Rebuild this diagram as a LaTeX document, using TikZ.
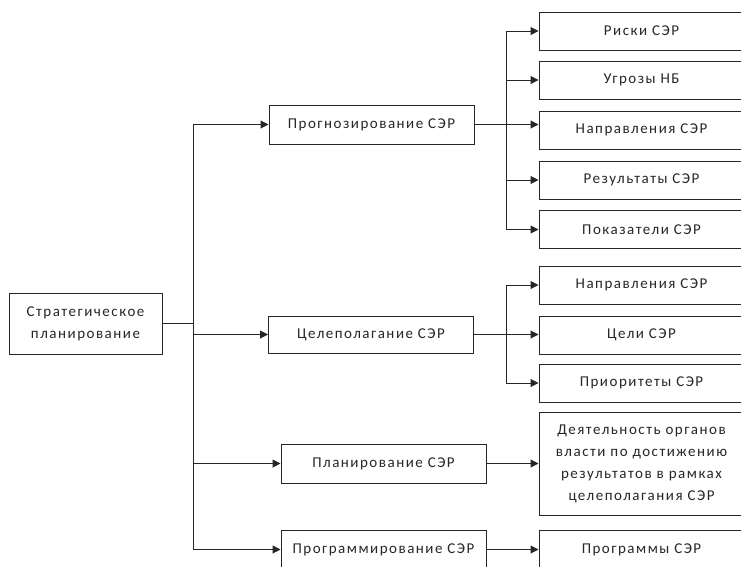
\documentclass[tikz,border=0pt]{standalone}
\usepackage{fontspec}
\setmainfont{Carlito}[LetterSpace=10]
\usetikzlibrary{arrows.meta}
\begin{document}
\begin{tikzpicture}[x=1pt,y=-1pt,
  box/.style={draw=black!85, line width=1pt, text=black!85, inner sep=0pt,
    align=center, font=\fontsize{15}{22}\selectfont},
  link/.style={draw=black!85, line width=1pt},
  arr/.style={link, -{Triangle[length=8pt,width=8pt]}}]
\useasboundingbox (0,0) rectangle (741,566);
\clip (0,0) rectangle (741,566);

% root
\node[box, minimum width=153pt, minimum height=61pt] (root) at (85.5,323.5)
  {Стратегическое\\планирование};

% second level
\node[box, minimum width=205pt, minimum height=39pt] (p1) at (371.5,124.5) {Прогнозирование СЭР};
\node[box, minimum width=205pt, minimum height=37pt] (p2) at (371,334.5) {Целеполагание СЭР};
\node[box, minimum width=205pt, minimum height=39pt] (p3) at (383.5,463.5) {Планирование СЭР};
\node[box, minimum width=205pt, minimum height=39pt] (p4) at (383.5,549.5) {Программирование СЭР};

% third level
\tikzset{leaf/.style={box, minimum width=205pt, minimum height=38pt}}
\node[leaf] (r1) at (641.5,31) {Риски СЭР};
\node[leaf] (r2) at (641.5,80) {Угрозы НБ};
\node[leaf] (r3) at (641.5,130) {Направления СЭР};
\node[leaf] (r4) at (641.5,180) {Результаты СЭР};
\node[leaf] (r5) at (641.5,229.5) {Показатели СЭР};
\node[leaf] (s1) at (641.5,285) {Направления СЭР};
\node[leaf] (s2) at (641.5,335) {Цели СЭР};
\node[leaf] (s3) at (641.5,383) {Приоритеты СЭР};
\node[leaf, minimum height=103pt] (d) at (641.5,463.5)
  {Деятельность органов\\власти по достижению\\результатов в рамках\\целеполагания СЭР};
\node[leaf] (g) at (641.5,549.5) {Программы СЭР};

% trunks
\coordinate (t) at (193,0);
\coordinate (u) at (506,0);

% root to second level
\draw[link] (root.east) -- (root.east -| t);
\draw[link] (p1.west -| t) -- (p4.west -| t);
\draw[arr] (p1.west -| t) -- (p1.west);
\draw[arr] (p2.west -| t) -- (p2.west);
\draw[arr] (p3.west -| t) -- (p3.west);
\draw[arr] (p4.west -| t) -- (p4.west);

% forecasting branch
\draw[arr] (p1.east) -- (p1.east -| r3.west);
\draw[link] (r1.west -| u) -- (r5.west -| u);
\draw[arr] (r1.west -| u) -- (r1.west);
\draw[arr] (r2.west -| u) -- (r2.west);
\draw[arr] (r4.west -| u) -- (r4.west);
\draw[arr] (r5.west -| u) -- (r5.west);

% goal-setting branch
\draw[arr] (p2.east) -- (p2.east -| s2.west);
\draw[link] (s1.west -| u) -- (s3.west -| u);
\draw[arr] (s1.west -| u) -- (s1.west);
\draw[arr] (s3.west -| u) -- (s3.west);

% planning and programming
\draw[arr] (p3.east) -- (p3.east -| d.west);
\draw[arr] (p4.east) -- (p4.east -| g.west);
\end{tikzpicture}
\end{document}
